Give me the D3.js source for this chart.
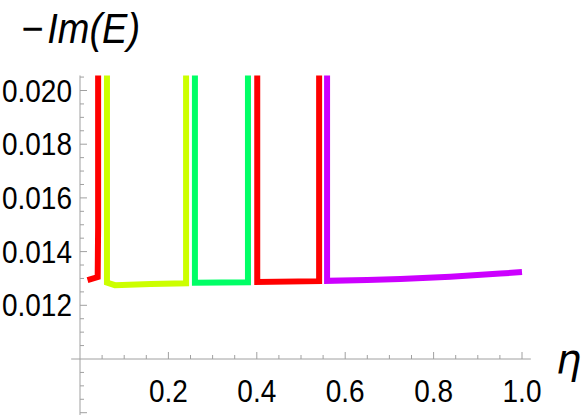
<!DOCTYPE html>
<html>
<head>
<meta charset="utf-8">
<script src="https://cdn.jsdelivr.net/npm/d3@7"></script>
<style>
  body { margin: 0; background: #fff; }
  svg { display: block; font-family: "Liberation Sans", Arial, sans-serif; }
  .tick-label { font-size: 28px; fill: #000; }
</style>
</head>
<body>
<svg width="581" height="415"></svg>
<script>
// branch colours (Mathematica Hue 0, 0.2, 0.4, 0, 0.8)
const colors = ['#ff0000', '#ccff00', '#00ff66', '#ff0000', '#cc00ff']

// eta values of each branch, and -Im(E) along it (0.025 = runs off the top)
const eta1 = [0.017, 0.040, 0.041, 0.041]
const val1 = [0.01294, 0.01305, 0.0149, 0.025]
const eta2 = [0.061, 0.061, 0.079, 0.16, 0.240, 0.240]
const val2 = [0.025, 0.01285, 0.01275, 0.01279, 0.01282, 0.025]
const eta3 = [0.260, 0.260, 0.380, 0.380]
const val3 = [0.025, 0.01284, 0.01286, 0.025]
const eta4 = [0.401, 0.401, 0.541, 0.541]
const val4 = [0.025, 0.01287, 0.0129, 0.025]
const eta5 = [0.559, 0.559, 0.65, 0.725, 0.838, 0.951, 1.0]
const val5 = [0.025, 0.01291, 0.01294, 0.01298, 0.01306, 0.01318, 0.01324]

const xTicks = [0.2, 0.4, 0.6, 0.8, 1.0]
const yTicks = [0.012, 0.014, 0.016, 0.018, 0.020]

const series = [[eta1, val1], [eta2, val2], [eta3, val3], [eta4, val4], [eta5, val5]]
  .map((s, i) => ({ color: colors[i], pts: s[0].map((e, j) => [e, s[1][j]]) }))

const svg = d3.select('svg')
const x = d3.scaleLinear().domain([0, 1]).range([80, 522])
const y = d3.scaleLinear().domain([0.010, 0.020]).range([359, 90.5])

const yTop = 0.02056
const axisColor = '#a0a0a0'
const stretch = 1.1  // the original font is a bit taller than Liberation

svg.append('clipPath').attr('id', 'plot')
  .append('rect')
  .attr('x', x(-0.02)).attr('y', y(yTop))
  .attr('width', x(1.03) - x(-0.02)).attr('height', y(0.0078) - y(yTop))

// axes
const ax = svg.append('g').attr('stroke', axisColor).attr('stroke-width', 1)
ax.append('line')
  .attr('x1', x(-0.02)).attr('x2', x(1.02))
  .attr('y1', y(0.010)).attr('y2', y(0.010))
ax.append('line')
  .attr('x1', x(0)).attr('x2', x(0))
  .attr('y1', y(yTop)).attr('y2', 415)

const xMinor = d3.range(1, 21).map(i => i * 0.05)
ax.selectAll('.xt').data(xMinor).enter().append('line')
  .attr('x1', d => x(d)).attr('x2', d => x(d))
  .attr('y1', y(0.010))
  .attr('y2', (d, i) => y(0.010) - ((i + 1) % 4 === 0 ? 7 : 4))

const yMinor = d3.range(-4, 22).map(i => 0.010 + i * 0.0005).filter(v => Math.abs(v - 0.010) > 1e-9)
ax.selectAll('.yt').data(yMinor).enter().append('line')
  .attr('y1', d => y(d)).attr('y2', d => y(d))
  .attr('x1', x(0))
  .attr('x2', d => x(0) + (Math.round(d * 10000) % 20 === 0 ? 7 : 4))

svg.append('g').selectAll('text').data(xTicks).enter().append('text')
  .attr('class', 'tick-label')
  .attr('transform', d => `translate(${x(d)},402) scale(1,${stretch})`)
  .attr('text-anchor', 'middle')
  .text(d => d.toFixed(1))

svg.append('g').selectAll('text').data(yTicks).enter().append('text')
  .attr('class', 'tick-label')
  .attr('transform', d => `translate(72,${y(d) + 11}) scale(1,${stretch})`)
  .attr('text-anchor', 'end')
  .text(d => d.toFixed(3))

// branches
const line = d3.line().x(d => x(d[0])).y(d => y(d[1]))
svg.append('g').attr('clip-path', 'url(#plot)')
  .selectAll('path').data(series).enter().append('path')
  .attr('d', d => line(d.pts))
  .attr('fill', 'none')
  .attr('stroke', d => d.color)
  .attr('stroke-width', 6)
  .attr('stroke-linejoin', 'miter')

// axis titles
const title = svg.append('text')
  .attr('transform', `translate(21,43) scale(1,${stretch})`)
  .attr('font-size', 38).attr('font-style', 'italic')
title.append('tspan').text('\u2212')
title.append('tspan').attr('dx', 4).text('Im(E)')

svg.append('text')
  .attr('x', 556).attr('y', 373)
  .attr('font-size', 40).attr('font-style', 'italic')
  .attr('font-family', 'DejaVu Sans, sans-serif')
  .text('\u03b7')
</script>
</body>
</html>
